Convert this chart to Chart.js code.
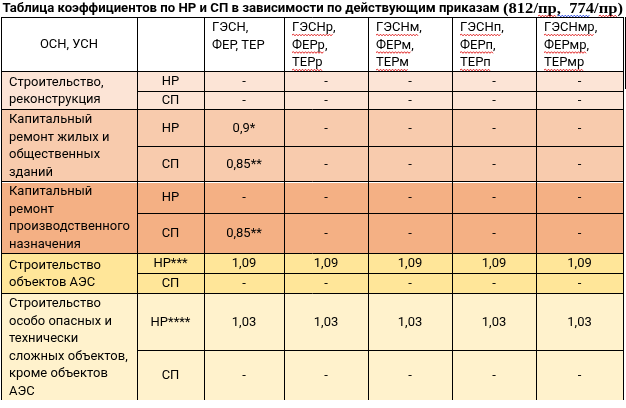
<!DOCTYPE html>
<html>
<head>
<meta charset="utf-8">
<script src="https://cdn.jsdelivr.net/npm/chart.js@4.4.1/dist/chart.umd.min.js"></script>
<style>
  html, body { margin: 0; padding: 0; background: #fff; }
  #wrap { width: 626px; height: 408px; position: relative; }
</style>
</head>
<body>
<div id="wrap"><canvas id="chart"></canvas></div>
<script>
// --- data ---
const TITLE = 'Таблица коэффициентов по НР и СП в зависимости по действующим приказам';
const TITLE_ORDERS = ['(812/', 'пр', ',  774/', 'пр', ')'];

const HEADERS = [
  ['ОСН, УСН'],
  [],
  ['ГЭСН,', 'ФЕР, ТЕР'],
  ['ГЭСНр,', 'ФЕРр,', 'ТЕРр'],
  ['ГЭСНм,', 'ФЕРм,', 'ТЕРм'],
  ['ГЭСНп,', 'ФЕРп,', 'ТЕРп'],
  ['ГЭСНмр,', 'ФЕРмр,', 'ТЕРмр'],
];

const GROUPS = [
  ['Строительство,', 'реконструкция'],
  ['Капитальный', 'ремонт жилых и', 'общественных', 'зданий'],
  ['Капитальный', 'ремонт', 'производственного', 'назначения'],
  ['Строительство', 'объектов АЭС'],
  ['Строительство', 'особо опасных и', 'технически', 'сложных объектов,', 'кроме объектов', 'АЭС'],
];

const NR_LABELS = ['НР', 'НР', 'НР', 'НР***', 'НР****'];
const SP_LABELS = ['СП', 'СП', 'СП', 'СП', 'СП'];

const NR_VALUES = [
  ['-', '-', '-', '-', '-'],
  ['0,9*', '-', '-', '-', '-'],
  ['-', '-', '-', '-', '-'],
  ['1,09', '1,09', '1,09', '1,09', '1,09'],
  ['1,03', '1,03', '1,03', '1,03', '1,03'],
];
const SP_VALUES = [
  ['-', '-', '-', '-', '-'],
  ['0,85**', '-', '-', '-', '-'],
  ['0,85**', '-', '-', '-', '-'],
  ['-', '-', '-', '-', '-'],
  ['-', '-', '-', '-', '-'],
];

// --- layout & style ---
const COL_WIDTHS = [136, 67, 80, 84, 84, 84, 87];
const HEADER_H = 54;
const ROW_HEIGHTS = [[20, 18], [37, 35], [32, 40], [20, 20], [57, 50]];
const GROUP_FILLS = ['#FCE4D6', '#F8CBAD', '#F4B084', '#FFE699', '#FFF2CC'];

const BODY_FONT = '13.5px Roboto';
const TITLE_FONT = 'bold 12.6px Roboto';
const ORDERS_FONT = 'bold 14.5px "Liberation Serif"';
const LINE_STEP = 17.5;
const PAD = 8;

const sum = a => a.reduce((s, v) => s + v, 0);
const TOTAL_W = sum(COL_WIDTHS);
const TOTAL_H = HEADER_H + sum(ROW_HEIGHTS.map(sum));

function squeeze(ctx, font, sample, target) {
  ctx.font = font;
  return target / ctx.measureText(sample).width;
}

function put(ctx, text, x, y, align, font, sx) {
  ctx.save();
  ctx.font = font;
  ctx.textAlign = align;
  ctx.textBaseline = 'middle';
  ctx.fillStyle = '#000';
  ctx.translate(x, y);
  ctx.scale(sx, 1);
  ctx.fillText(text, 0, 0);
  ctx.restore();
}

function wavy(ctx, x1, x2, y, color) {
  ctx.save();
  ctx.strokeStyle = color;
  ctx.lineWidth = 1;
  ctx.beginPath();
  ctx.moveTo(x1, y);
  let up = true;
  for (let xx = x1 + 1.5; xx <= x2; xx += 1.5) {
    ctx.lineTo(xx, up ? y - 0.8 : y + 0.8);
    up = !up;
  }
  ctx.stroke();
  ctx.restore();
}

function hline(ctx, x1, x2, y) {
  ctx.beginPath();
  ctx.moveTo(x1, Math.round(y) + 0.5);
  ctx.lineTo(x2, Math.round(y) + 0.5);
  ctx.stroke();
}
function vline(ctx, x, y1, y2) {
  ctx.beginPath();
  ctx.moveTo(Math.round(x) + 0.5, y1);
  ctx.lineTo(Math.round(x) + 0.5, y2);
  ctx.stroke();
}

const tablePlugin = {
  id: 'tableCells',
  afterDraw(chart) {
    const { ctx, scales: { x, y } } = chart;
    const sx = squeeze(ctx, BODY_FONT, 'производственного', 121);

    // column edges through the x scale
    const colX = [x.getPixelForValue(0)];
    let acc = 0;
    COL_WIDTHS.forEach(w => { acc += w; colX.push(x.getPixelForValue(acc)); });

    // row edges through the y scale
    const top = y.getPixelForValue(0);
    const headBottom = y.getPixelForValue(HEADER_H);
    const rows = [];
    let yy = HEADER_H;
    ROW_HEIGHTS.forEach(([h1, h2]) => {
      rows.push({
        top: y.getPixelForValue(yy),
        mid: y.getPixelForValue(yy + h1),
        bottom: y.getPixelForValue(yy + h1 + h2),
      });
      yy += h1 + h2;
    });
    const left = colX[0], right = colX[colX.length - 1];
    const bottom = y.getPixelForValue(TOTAL_H);

    // fills
    rows.forEach((r, g) => {
      ctx.fillStyle = GROUP_FILLS[g];
      ctx.fillRect(left, r.top, right - left, r.bottom - r.top);
    });

    // header text
    HEADERS.forEach((lines, c) => {
      if (c === 0) {
        put(ctx, lines[0], (colX[0] + colX[1]) / 2, (top + headBottom) / 2 + 1, 'center', BODY_FONT, sx);
        return;
      }
      lines.forEach((t, i) => {
        const tx = colX[c] + PAD;
        const ty = top + 11 + i * LINE_STEP;
        put(ctx, t, tx, ty, 'left', BODY_FONT, sx);
        if (c >= 3) {
          ctx.font = BODY_FONT;
          const word = t.replace(',', '');
          wavy(ctx, tx, tx + ctx.measureText(word).width * sx, ty + 7, '#e02020');
        }
      });
    });

    // body text
    rows.forEach((r, g) => {
      const lines = GROUPS[g];
      const cy = (r.top + r.bottom) / 2;
      lines.forEach((t, i) => {
        put(ctx, t, colX[0] + PAD, cy + (i - (lines.length - 1) / 2) * LINE_STEP + 1, 'left', BODY_FONT, sx);
      });
      const c1 = (colX[1] + colX[2]) / 2;
      const nrY = (r.top + r.mid) / 2 + 1;
      const spY = (r.mid + r.bottom) / 2 + 1;
      put(ctx, NR_LABELS[g], c1, nrY, 'center', BODY_FONT, sx);
      put(ctx, SP_LABELS[g], c1, spY, 'center', BODY_FONT, sx);
      NR_VALUES[g].forEach((v, k) => {
        put(ctx, v, (colX[k + 2] + colX[k + 3]) / 2, nrY, 'center', BODY_FONT, sx);
      });
      SP_VALUES[g].forEach((v, k) => {
        put(ctx, v, (colX[k + 2] + colX[k + 3]) / 2, spY, 'center', BODY_FONT, sx);
      });
    });

    // borders
    ctx.save();
    ctx.strokeStyle = '#000';
    ctx.lineWidth = 1;
    hline(ctx, left, right + 1, top);
    hline(ctx, left, right + 1, headBottom);
    rows.forEach((r, g) => {
      hline(ctx, colX[1], right + 1, r.mid);
      if (g < rows.length - 1) hline(ctx, left, right + 1, r.bottom);
    });
    colX.forEach(cx => vline(ctx, cx, top, bottom));
    vline(ctx, right + 2, top, rows[0].mid - 2);
    ctx.restore();
    // light gap between the repair groups
    ctx.fillStyle = '#fff';
    ctx.fillRect(left + 1, Math.round(rows[1].bottom) + 1, right - left, 1);
    ctx.strokeStyle = '#000';
    colX.forEach(cx => vline(ctx, cx, Math.round(rows[1].bottom) + 1, Math.round(rows[1].bottom) + 2));

    // title
    const tsx = squeeze(ctx, TITLE_FONT, TITLE, 497);
    put(ctx, TITLE, 2.5, 8.5, 'left', TITLE_FONT, tsx);
    const fullOrders = TITLE_ORDERS.join('');
    const osx = squeeze(ctx, ORDERS_FONT, fullOrders, 120);
    put(ctx, fullOrders, 503, 9, 'left', ORDERS_FONT, osx);
    ctx.font = ORDERS_FONT;
    let ox = 503;
    TITLE_ORDERS.forEach((part, i) => {
      const w = ctx.measureText(part).width * osx;
      if (part === 'пр') wavy(ctx, ox, ox + w, 16, '#e02020');
      if (i === 2) wavy(ctx, ox + 1, ox + w - 8, 16, '#2040e0');
      ox += w;
    });
  },
};

new Chart(document.getElementById('chart'), {
  type: 'scatter',
  data: { datasets: [] },
  options: {
    responsive: true,
    maintainAspectRatio: false,
    animation: false,
    layout: { padding: { left: 1, top: 17, right: 3, bottom: 8 } },
    scales: {
      x: { type: 'linear', min: 0, max: TOTAL_W, display: false },
      y: { type: 'linear', min: 0, max: TOTAL_H, reverse: true, display: false },
    },
    plugins: { legend: { display: false }, tooltip: { enabled: false } },
  },
  plugins: [tablePlugin],
});
</script>
</body>
</html>
